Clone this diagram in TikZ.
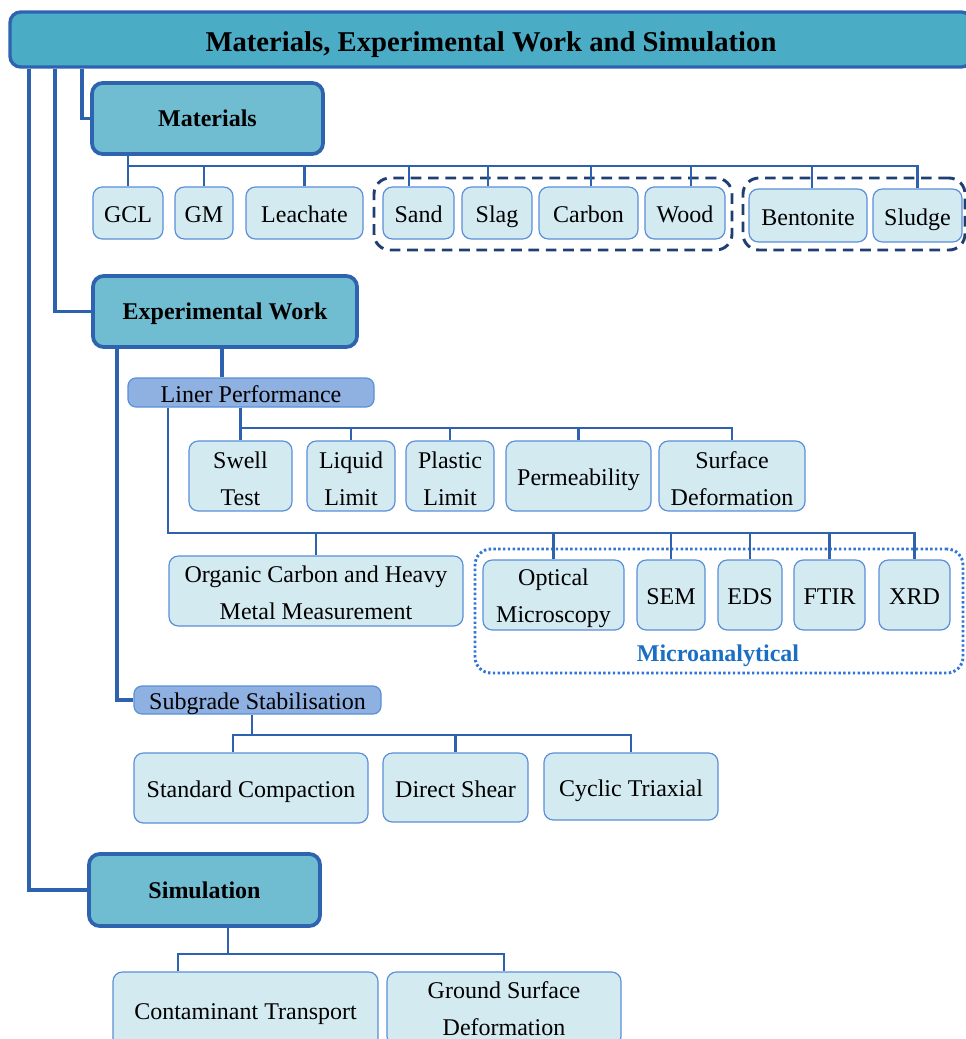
\documentclass[tikz,border=0pt]{standalone}
\usepackage{fontspec}
\setmainfont{Liberation Serif}
\definecolor{titlefill}{HTML}{4BACC6}
\definecolor{mainfill}{HTML}{70BDD2}
\definecolor{mainline}{HTML}{2E63B0}
\definecolor{leaffill}{HTML}{D3EAF0}
\definecolor{leafline}{HTML}{5B8FD8}
\definecolor{subfill}{HTML}{8EB1E1}
\definecolor{connc}{HTML}{2F62AE}
\definecolor{dashc}{HTML}{1F3F73}
\definecolor{dotc}{HTML}{2F76D6}
\definecolor{microtext}{HTML}{1A6FC4}
\newcommand{\lift}[1]{\rule{0pt}{#1}}
\begin{document}
\begin{tikzpicture}[x=0.75pt,y=-0.75pt,
  span/.style args={#1/#2/#3/#4}{at={({(#1+#3)/2},{(#2+#4)/2})},
    minimum width={(#3-#1)*0.75pt}, minimum height={(#4-#2)*0.75pt}, anchor=center},
  titlebox/.style={draw=mainline, fill=titlefill, line width=2.5pt, rounded corners=8pt, inner sep=0pt,
    font=\bfseries\fontsize{21.5}{26}\selectfont, text height=19pt, text depth=1pt},
  mainbox/.style={draw=mainline, fill=mainfill, line width=2.8pt, rounded corners=8pt, inner sep=0pt,
    font=\bfseries\fontsize{18}{22}\selectfont, text height=13pt, text depth=1pt},
  leafbox/.style={draw=leafline, fill=leaffill, line width=0.9pt, rounded corners=7pt, inner sep=0pt,
    align=center, font=\fontsize{18}{27.75}\selectfont},
  subbox/.style={draw=leafline, fill=subfill, line width=0.9pt, rounded corners=6pt, inner sep=0pt,
    font=\fontsize{18}{22}\selectfont},
  oneline/.style={text height=15.5pt, text depth=1pt},
  thickc/.style={draw=connc, line width=2.7pt},
  thinc/.style={draw=connc, line width=1.6pt},
  dashgroup/.style={draw=dashc, line width=2.2pt, dash pattern=on 8pt off 5pt, rounded corners=12pt, inner sep=0pt},
  dotgroup/.style={draw=dotc, line width=2.2pt, dash pattern=on 1.8pt off 1.8pt, rounded corners=12pt, inner sep=0pt}
]
\useasboundingbox (0,0) rectangle (966,1039);

% group outlines
\node[dashgroup, span=374/178/732/250] (grp1) {};
\node[dashgroup, span=743/178/965/250] (grp2) {};
\node[dotgroup, span=475/549/963/673] (grp3) {};
\node[font=\bfseries\fontsize{18}{22}\selectfont, text=microtext] (mlabel) at (718,656) {Microanalytical};

% main boxes
\node[titlebox, span=10/12/972/67] (title) {Materials, Experimental Work and Simulation};
\node[mainbox, span=92/83/323/154] (mat) {Materials};
\node[mainbox, span=93/276/357/347] (ew) {Experimental Work};
\node[mainbox, span=89/854/320/926] (sim) {Simulation};

% materials
\node[leafbox, oneline, span=93/187/163/239] (gcl) {GCL};
\node[leafbox, oneline, span=175/187/233/239] (gm) {GM};
\node[leafbox, oneline, span=246/187/363/239] (leach) {Leachate};
\node[leafbox, oneline, span=383/187/454/239] (sand) {Sand};
\node[leafbox, oneline, span=462/187/532/239] (slag) {Slag};
\node[leafbox, oneline, span=539/187/638/239] (carbon) {Carbon};
\node[leafbox, oneline, span=645/187/725/239] (wood) {Wood};
\node[leafbox, oneline, span=749/189/867/242] (bent) {Bentonite};
\node[leafbox, oneline, span=873/189/962/242] (sludge) {Sludge};

% experimental work
\node[subbox, oneline, span=128/378/374/407] (lp) {Liner Performance};
\node[leafbox, span=189/441/292/511] (swell) {\lift{17pt}Swell\\Test};
\node[leafbox, span=307/441/395/511] (liq) {\lift{17pt}Liquid\\Limit};
\node[leafbox, span=406/441/494/511] (plast) {\lift{17pt}Plastic\\Limit};
\node[leafbox, oneline, span=506/441/651/511] (perm) {Permeability};
\node[leafbox, span=659/441/805/511] (surf) {\lift{17pt}Surface\\Deformation};

\node[leafbox, span=169/556/463/626] (org) {\lift{15.5pt}Organic Carbon and Heavy\\Metal Measurement};
\node[leafbox, span=483/560/624/630] (optic) {\lift{17.5pt}Optical\\Microscopy};
\node[leafbox, oneline, span=637/560/705/630] (sem) {SEM};
\node[leafbox, oneline, span=718/560/782/630] (eds) {EDS};
\node[leafbox, oneline, span=794/560/865/630] (ftir) {FTIR};
\node[leafbox, oneline, span=879/560/950/630] (xrd) {XRD};

\node[subbox, oneline, span=134/686/381/714] (sg) {Subgrade Stabilisation};
\node[leafbox, oneline, span=134/753/368/823] (sc) {Standard Compaction};
\node[leafbox, oneline, span=383/753/528/822] (ds) {Direct Shear};
\node[leafbox, oneline, span=544/753/718/820] (cyc) {Cyclic Triaxial};

% simulation
\node[leafbox, oneline, span=113/972/378/1048] (ctr) {Contaminant Transport};
\node[leafbox, span=387/972/621/1046] (gsd) {Ground Surface\\Deformation};

% helper coordinates
\coordinate (xa) at (29,0);
\coordinate (xb) at (55,0);
\coordinate (xc) at (82,0);
\coordinate (mbus) at (0,166);
\coordinate (lbus) at (0,428);
\coordinate (bus2) at (0,533);
\coordinate (ewx) at (222,0);
\coordinate (ewy) at (117,0);
\coordinate (sbus) at (0,735);
\coordinate (sgx) at (252,0);
\coordinate (scx) at (233,0);
\coordinate (simx) at (228,0);
\coordinate (ctx) at (178,0);
\coordinate (simbus) at (0,954);

% title connectors
\draw[thickc] (title.south -| xc) |- (mat.west);
\draw[thickc] (title.south -| xb) |- (ew.west);
\draw[thickc] (title.south -| xa) |- (sim.west);

% materials tree
\draw[thinc] (mat.south -| gcl.north) -- (gcl.north);
\draw[thinc] (gcl.north |- mbus) -| (sludge.north);
\draw[thinc] (gm.north) -- (gm.north |- mbus);
\draw[thinc] (leach.north) -- (leach.north |- mbus);
\draw[thinc] ([xshift=-7.1pt]sand.north) -- ([xshift=-7.1pt]sand.north |- mbus);
\draw[thinc] ([xshift=-6.75pt]slag.north) -- ([xshift=-6.75pt]slag.north |- mbus);
\draw[thinc] ([xshift=1.9pt]carbon.north) -- ([xshift=1.9pt]carbon.north |- mbus);
\draw[thinc] ([xshift=4.5pt]wood.north) -- ([xshift=4.5pt]wood.north |- mbus);
\draw[thinc] ([xshift=3pt]bent.north) -- ([xshift=3pt]bent.north |- mbus);

% experimental work
\draw[thickc] (ew.south -| ewx) -- (lp.north -| ewx);
\draw[thickc] (ew.south -| ewy) |- (sg.west);

\draw[thinc] (lp.south -| swell.north) -- (swell.north);
\draw[thinc] (swell.north |- lbus) -| (surf.north);
\draw[thinc] (liq.north) -- (liq.north |- lbus);
\draw[thinc] (plast.north) -- (plast.north |- lbus);
\draw[thinc] (perm.north) -- (perm.north |- lbus);

\draw[thinc] (lp.south -| org.west) |- (xrd.north |- bus2) -- (xrd.north);
\draw[thinc] (org.north) -- (org.north |- bus2);
\draw[thinc] (optic.north) -- (optic.north |- bus2);
\draw[thinc] (sem.north) -- (sem.north |- bus2);
\draw[thinc] (eds.north) -- (eds.north |- bus2);
\draw[thinc] (ftir.north) -- (ftir.north |- bus2);

\draw[thinc] (sg.south -| sgx) -- (sgx |- sbus);
\draw[thinc] (sc.north -| scx) |- (cyc.north |- sbus) -- (cyc.north);
\draw[thinc] (ds.north) -- (ds.north |- sbus);

% simulation
\draw[thinc] (sim.south -| simx) -- (simx |- simbus);
\draw[thinc] (ctr.north -| ctx) |- (gsd.north |- simbus) -- (gsd.north);
\end{tikzpicture}
\end{document}
